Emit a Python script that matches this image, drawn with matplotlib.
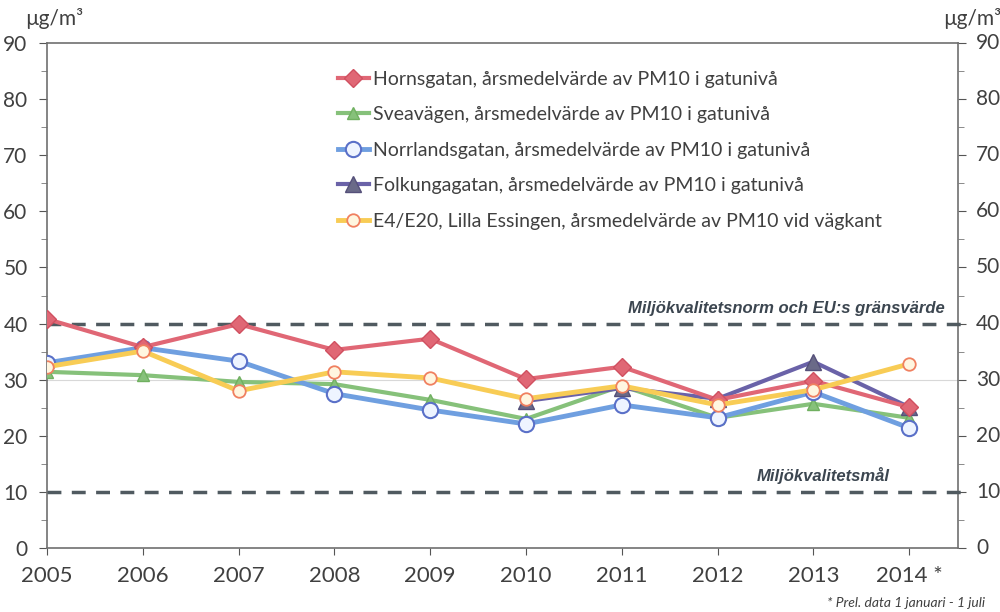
import numpy as np
import matplotlib.pyplot as plt

plt.rcParams['font.family'] = ['Lato', 'DejaVu Sans']

years = [2005, 2006, 2007, 2008, 2009, 2010, 2011, 2012, 2013, 2014]
year_labels = ['2005', '2006', '2007', '2008', '2009', '2010', '2011', '2012', '2013', '2014 *']

hornsgatan = [40.8, 35.8, 39.9, 35.3, 37.3, 30.1, 32.3, 26.4, 29.8, 25.1]
sveavagen = [31.4, 30.8, 29.6, 29.2, 26.4, 23.0, 28.9, 23.2, 25.7, 23.2]
norrlandsgatan = [33.0, 35.7, 33.3, 27.5, 24.6, 22.1, 25.5, 23.2, 27.8, 21.4]
folkungagatan = [np.nan, np.nan, np.nan, np.nan, np.nan, 26.2, 28.5, 26.6, 33.2, 25.1]
e4_e20 = [32.3, 35.1, 28.0, 31.4, 30.3, 26.6, 28.9, 25.5, 28.2, 32.8]

norm_level = 40
goal_level = 10

fig = plt.figure(figsize=(10, 6.12), dpi=100)
ax = fig.add_axes([0.047, 0.1046, 0.911, 0.8251])

ax.axhline(30, color='#d8d8d8', lw=0.8, zorder=1)

ax.plot(years, hornsgatan, color='#e06775', lw=3, marker='D', ms=9,
        mfc='#e06775', mec='#d05060', zorder=5,
        label='Hornsgatan, årsmedelvärde av PM10 i gatunivå')
ax.plot(years, sveavagen, color='#86c17a', lw=3, marker='^', ms=9,
        mfc='#86c17a', mec='#70b060', zorder=4,
        label='Sveavägen, årsmedelvärde av PM10 i gatunivå')
ax.plot(years, norrlandsgatan, color='#6f9fe0', lw=3.5, marker='o', ms=11,
        mfc='#eef4ff', mec='#5a70c8', mew=1.5, zorder=4,
        label='Norrlandsgatan, årsmedelvärde av PM10 i gatunivå')
ax.plot(years, folkungagatan, color='#6a62a8', lw=3, marker='^', ms=11,
        mfc='#6a6a88', mec='#55507a', zorder=4,
        label='Folkungagatan, årsmedelvärde av PM10 i gatunivå')
ax.plot(years, e4_e20, color='#f8cc55', lw=3.5, marker='o', ms=9,
        mfc='#fff6e0', mec='#f08060', mew=1.3, zorder=6,
        label='E4/E20, Lilla Essingen, årsmedelvärde av PM10 vid vägkant')

for lvl in (norm_level, goal_level):
    ax.plot([0, 1.012], [lvl, lvl], transform=ax.get_yaxis_transform(),
            color='#505a60', lw=2.5, ls=(0, (4, 3)), zorder=3, clip_on=False)
ax.text(2014.37, norm_level + 1.4, 'Miljökvalitetsnorm och EU:s gränsvärde',
        ha='right', va='bottom', fontsize=12, fontweight='bold', style='italic',
        color='#3c4650', family='Liberation Sans')
ax.text(2013.8, goal_level + 1.4, 'Miljökvalitetsmål',
        ha='right', va='bottom', fontsize=12, fontweight='bold', style='italic',
        color='#3c4650', family='Liberation Sans')

ax.set_xlim(2005, 2014.51)
ax.set_ylim(0, 90)
ax.set_xticks(years)
ax.set_xticklabels(year_labels)
ax.set_yticks(np.arange(0, 91, 10))
ax.set_yticks(np.arange(5, 90, 10), minor=True)
ax.tick_params(axis='x', labelsize=16, colors='#555555', labelcolor='#404040', length=5, pad=8)
ax.tick_params(axis='y', which='major', labelsize=15, colors='#555555', labelcolor='#404040',
               length=6, left=True, right=True, labelleft=True, labelright=False, pad=8)
ax.tick_params(axis='y', which='minor', length=4, colors='#777777', left=True, right=True)
for s in ax.spines.values():
    s.set_color('#707070')
    s.set_linewidth(1.2)

# right axis labels
for v in range(0, 91, 10):
    ax.text(1.02, v / 90, str(v), transform=ax.transAxes, fontsize=15,
            color='#404040', ha='left', va='center', clip_on=False)

fig.text(0.054, 0.97, 'µg/m³', fontsize=15, color='#404040', ha='center', va='center')
fig.text(0.943, 0.97, 'µg/m³', fontsize=15, color='#404040', ha='left', va='center')
fig.text(0.985, 0.014, '* Prel. data 1 januari - 1 juli', fontsize=10, style='italic',
         color='#404040', ha='right', va='center')

ax.legend(loc='upper left', bbox_to_anchor=(0.3, 0.98), frameon=False, fontsize=14,
          handlelength=1.6, handletextpad=0.2, labelspacing=0.95, labelcolor='#404040')

fig.savefig('out.png', dpi=100)
